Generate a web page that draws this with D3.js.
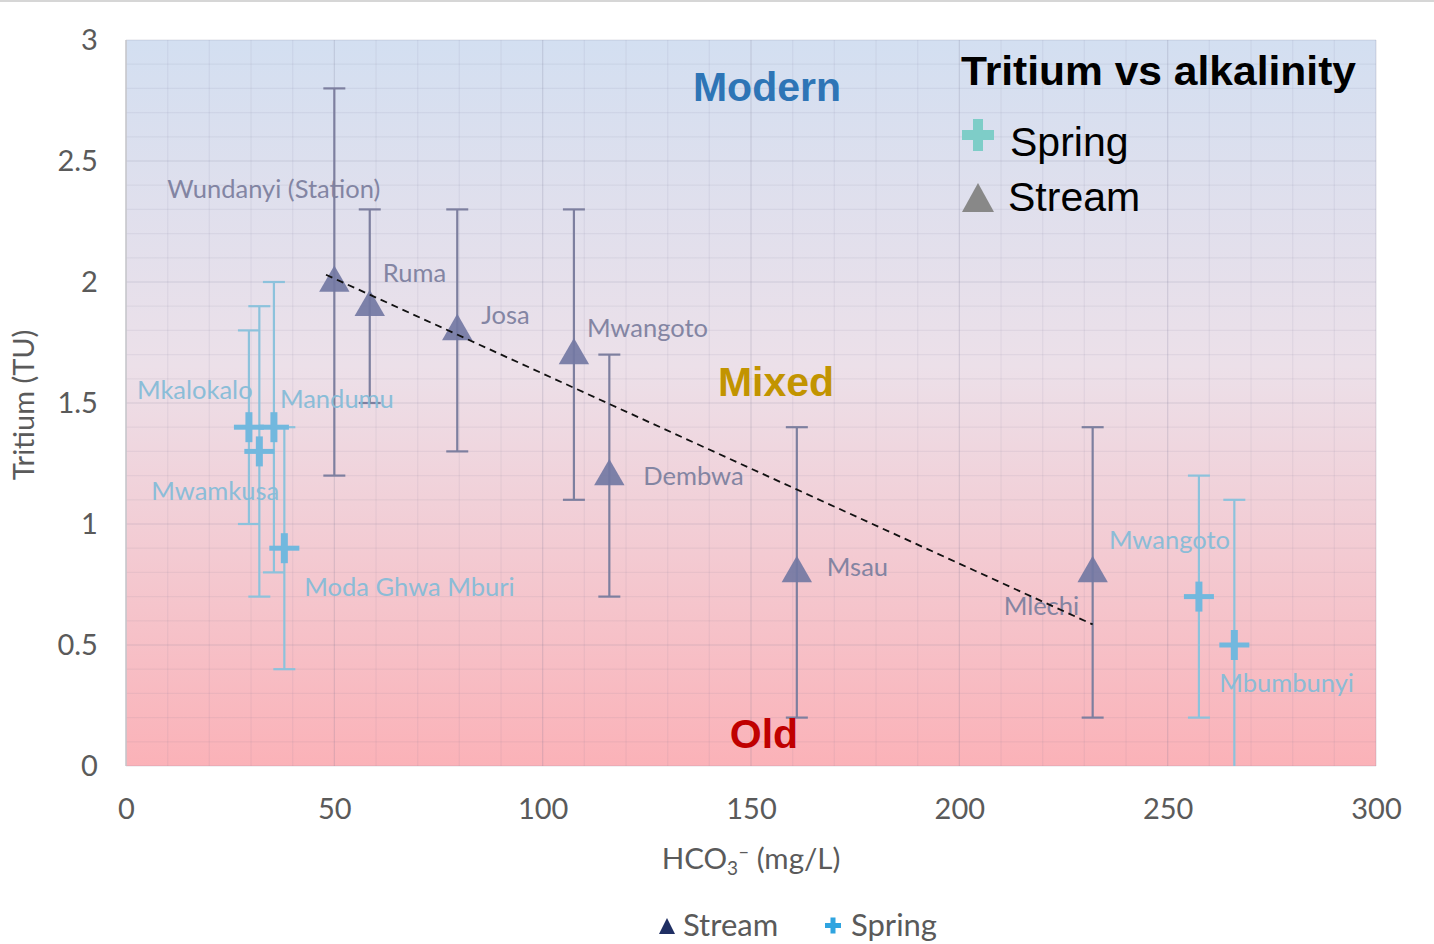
<!DOCTYPE html>
<html>
<head>
<meta charset="utf-8">
<script src="https://cdn.jsdelivr.net/npm/d3@7"></script>
<style>
  html, body { margin: 0; padding: 0; background: #fff; }
  svg { display: block; }
</style>
</head>
<body>
<svg id="chart" width="1434" height="944"></svg>
<script>
// stream samples: name, HCO3 (mg/L), tritium (TU), error (TU)
let streamNames = ['Wundanyi (Station)', 'Ruma', 'Josa', 'Mwangoto', 'Dembwa', 'Msau', 'Mlechi'];
let streamHco3 = [50, 58.5, 79.5, 107.5, 116, 161, 232];
let streamTu = [2.0, 1.9, 1.8, 1.7, 1.2, 0.8, 0.8];
let streamErr = [0.8, 0.4, 0.5, 0.6, 0.5, 0.6, 0.6];

// spring samples
let springNames = ['Mkalokalo', 'Mwamkusa', 'Mandumu', 'Moda Ghwa Mburi', 'Mwangoto', 'Mbumbunyi'];
let springHco3 = [29.5, 32, 35.5, 38, 257.5, 266];
let springTu = [1.4, 1.3, 1.4, 0.9, 0.7, 0.5];
let springErr = [0.4, 0.6, 0.6, 0.5, 0.5, 0.6];

// dashed trend line end points
let trendX = [48, 232];
let trendY = [2.03, 0.585];

let xTicks = [0, 50, 100, 150, 200, 250, 300];
let yTicks = [0, 0.5, 1, 1.5, 2, 2.5, 3];

// label offsets in px from the marker (layout only)
let streamLabelOff = [[-167, -84], [13, -24], [24, -6], [13, -18], [34, 9], [30, 4], [-89, 43]];
let springLabelOff = [[-112, -28], [-108, 49], [6, -19], [20, 48], [-90, -48], [-15, 47]];

let margin = { left: 126, top: 40, right: 1434 - 1376, bottom: 944 - 766 };
let width = 1434, height = 944;
let svg = d3.select('#chart');

let x = d3.scaleLinear().domain([0, 300]).range([margin.left, width - margin.right]);
let y = d3.scaleLinear().domain([0, 3]).range([height - margin.bottom, margin.top]);

let streamColor = '#7378a3';
let springColor = '#72b8de';
let streamLabel = '#7e81a0';
let springLabel = '#86bcd8';
let labelFont = 'Lato, sans-serif';

// background gradient
let defs = svg.append('defs');
let grad = defs.append('linearGradient')
  .attr('id', 'bg').attr('x1', 0).attr('y1', 0).attr('x2', 0).attr('y2', 1);
grad.append('stop').attr('offset', '0%').attr('stop-color', '#d3dff1');
grad.append('stop').attr('offset', '45%').attr('stop-color', '#ece0e9');
grad.append('stop').attr('offset', '100%').attr('stop-color', '#fbb2b8');

defs.append('clipPath').attr('id', 'plotclip')
  .append('rect')
  .attr('x', x(0)).attr('y', y(3))
  .attr('width', x(300) - x(0)).attr('height', y(0) - y(3));

// thin grey strip at the top of the picture
svg.append('rect').attr('x', 0).attr('y', 0).attr('width', width).attr('height', 2).attr('fill', '#d6d6d6');

svg.append('rect')
  .attr('x', x(0)).attr('y', y(3))
  .attr('width', x(300) - x(0)).attr('height', y(0) - y(3))
  .attr('fill', 'url(#bg)');

// grid
let grid = svg.append('g');
grid.selectAll('.vminor').data(d3.range(0, 301, 10)).join('line')
  .attr('x1', d => x(d)).attr('x2', d => x(d))
  .attr('y1', y(3)).attr('y2', y(0))
  .attr('stroke', d => d % 50 === 0 ? 'rgba(110,110,140,0.2)' : 'rgba(110,110,140,0.09)')
  .attr('stroke-width', 1.2);
grid.selectAll('.hminor').data(d3.range(0, 31, 1).map(d => d / 10)).join('line')
  .attr('x1', x(0)).attr('x2', x(300))
  .attr('y1', d => y(d)).attr('y2', d => y(d))
  .attr('stroke', (d, i) => i % 5 === 0 ? 'rgba(110,110,140,0.2)' : 'rgba(110,110,140,0.09)')
  .attr('stroke-width', 1.2);

svg.append('line')
  .attr('x1', x(0)).attr('x2', x(0)).attr('y1', y(3)).attr('y2', y(0))
  .attr('stroke', '#c8c8cc').attr('stroke-width', 1.5);

// axes
let xAxis = d3.axisBottom(x).tickValues(xTicks).tickSize(0).tickPadding(36);
let yAxis = d3.axisLeft(y).tickValues(yTicks).tickSize(0).tickPadding(31).tickFormat(d3.format('~g'));

let gx = svg.append('g').attr('transform', `translate(0,${y(0)})`).call(xAxis);
let gy = svg.append('g').attr('transform', `translate(${x(0)},0)`).call(yAxis);
[gx, gy].forEach(g => {
  g.select('.domain').remove();
  g.selectAll('text')
    .attr('font-family', labelFont)
    .attr('font-size', 29)
    .attr('fill', '#5a5a5a');
});
gx.selectAll('text').attr('dy', '0.6em');
gy.selectAll('text').attr('dx', '0.1em');

// axis titles
let xt = svg.append('text')
  .attr('x', 751).attr('y', 869)
  .attr('text-anchor', 'middle')
  .attr('font-family', labelFont).attr('font-size', 29.5).attr('fill', '#5a5a5a');
xt.append('tspan').text('HCO');
xt.append('tspan').attr('font-size', 19).attr('dy', 6).text('3');
xt.append('tspan').attr('font-size', 19).attr('dy', -17).text('\u2013');
xt.append('tspan').attr('dy', 11).text(' (mg/L)');

svg.append('text')
  .attr('transform', `translate(34,${(y(0) + y(3)) / 2 + 2}) rotate(-90)`)
  .attr('text-anchor', 'middle')
  .attr('font-family', labelFont).attr('font-size', 29).attr('fill', '#5a5a5a')
  .text('Tritium (TU)');

let plot = svg.append('g').attr('clip-path', 'url(#plotclip)');

function drawErrors(hco3, tu, err, color) {
  let g = plot.append('g').attr('stroke', color).attr('stroke-width', 2.2).attr('fill', 'none');
  hco3.forEach((v, i) => {
    let cx = x(v);
    let top = y(tu[i] + err[i]), bot = y(tu[i] - err[i]);
    g.append('line').attr('x1', cx).attr('x2', cx).attr('y1', top).attr('y2', bot);
    g.append('line').attr('x1', cx - 11).attr('x2', cx + 11).attr('y1', top).attr('y2', top);
    g.append('line').attr('x1', cx - 11).attr('x2', cx + 11).attr('y1', bot).attr('y2', bot);
  });
}

drawErrors(springHco3, springTu, springErr, '#8cc2dc');
drawErrors(streamHco3, streamTu, streamErr, '#7d7f9f');

// spring markers: thick plus
let springG = plot.append('g').attr('fill', springColor);
springHco3.forEach((v, i) => {
  let cx = x(v), cy = y(springTu[i]);
  springG.append('rect').attr('x', cx - 15).attr('y', cy - 2.5).attr('width', 30).attr('height', 5);
  springG.append('rect').attr('x', cx - 3.5).attr('y', cy - 15).attr('width', 7).attr('height', 30);
});

// stream markers: triangles
let tri = d3.symbol().type(d3.symbolTriangle).size(400);
plot.append('g').selectAll('path')
  .data(streamHco3.map((v, i) => [v, streamTu[i]]))
  .join('path')
  .attr('d', tri)
  .attr('transform', d => `translate(${x(d[0])},${y(d[1]) + 1})`)
  .attr('fill', streamColor)
  .attr('opacity', 0.92);

// labels
function drawLabels(names, hco3, tu, off, color) {
  svg.append('g').selectAll('text')
    .data(names)
    .join('text')
    .attr('x', (d, i) => x(hco3[i]) + off[i][0])
    .attr('y', (d, i) => y(tu[i]) + off[i][1])
    .attr('font-family', labelFont)
    .attr('font-size', 25.5)
    .attr('fill', color)
    .attr('opacity', 0.95)
    .text(d => d);
}
drawLabels(streamNames, streamHco3, streamTu, streamLabelOff, streamLabel);
drawLabels(springNames, springHco3, springTu, springLabelOff, springLabel);

// trend line
svg.append('line')
  .attr('x1', x(trendX[0])).attr('y1', y(trendY[0]))
  .attr('x2', x(trendX[1])).attr('y2', y(trendY[1]))
  .attr('stroke', '#111').attr('stroke-width', 1.8)
  .attr('stroke-dasharray', '7,5');

// zone labels
let zones = [['Modern', 2.75, '#2e75b6'], ['Mixed', 1.53, '#c29400'], ['Old', 0.075, '#c00000']];
svg.append('g').selectAll('text')
  .data(zones)
  .join('text')
  .attr('x', d => d[0] === 'Mixed' ? 776 : (d[0] === 'Old' ? 764 : 767))
  .attr('y', d => y(d[1]))
  .attr('text-anchor', 'middle')
  .attr('font-family', '"Liberation Sans", Arial, sans-serif')
  .attr('font-weight', 'bold')
  .attr('font-size', 41)
  .attr('fill', d => d[2])
  .text(d => d[0]);

// inner legend
let leg = svg.append('g').attr('font-family', '"Liberation Sans", Arial, sans-serif').attr('fill', '#000');
leg.append('text').attr('x', 961).attr('y', 85)
  .attr('font-weight', 'bold').attr('font-size', 41)
  .attr('textLength', 395).attr('lengthAdjust', 'spacingAndGlyphs')
  .text('Tritium vs alkalinity');
leg.append('rect').attr('x', 962).attr('y', 130).attr('width', 32).attr('height', 10).attr('fill', '#7ecdc8');
leg.append('rect').attr('x', 973).attr('y', 119).attr('width', 10).attr('height', 32).attr('fill', '#7ecdc8');
leg.append('text').attr('x', 1010).attr('y', 156).attr('font-size', 41).text('Spring');
leg.append('path').attr('d', 'M962,212L978,183L994,212Z').attr('fill', '#888888');
leg.append('text').attr('x', 1008).attr('y', 211).attr('font-size', 41).text('Stream');

// bottom legend
let bl = svg.append('g').attr('font-family', labelFont).attr('font-size', 31).attr('fill', '#5a5a5a');
bl.append('path').attr('d', 'M659,934L667,918L675,934Z').attr('fill', '#1f2f63');
bl.append('text').attr('x', 683).attr('y', 936).text('Stream');
bl.append('rect').attr('x', 825).attr('y', 923).attr('width', 16).attr('height', 5).attr('fill', '#2fa4e0');
bl.append('rect').attr('x', 830.5).attr('y', 917.5).attr('width', 5).attr('height', 16).attr('fill', '#2fa4e0');
bl.append('text').attr('x', 851).attr('y', 936).text('Spring');
</script>
</body>
</html>
